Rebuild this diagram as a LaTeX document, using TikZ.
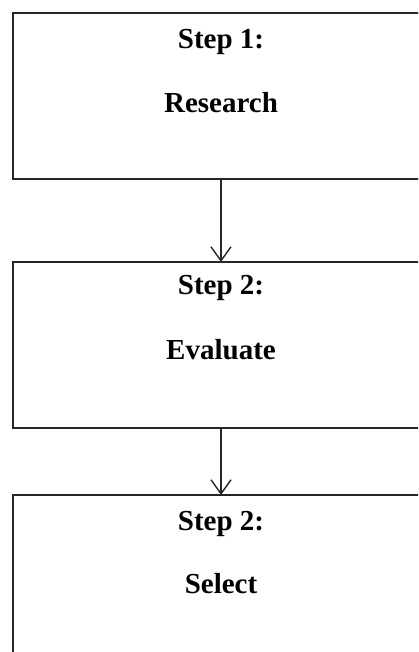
\documentclass[tikz,border=0pt]{standalone}
\usepackage{fontspec}
\setmainfont{Liberation Serif}
\usetikzlibrary{arrows.meta}

\begin{document}
\begin{tikzpicture}[x=1pt,y=1pt,
  >={Straight Barb[length=14pt,width=20pt]},
  stepbox/.style={draw=black!85,line width=1.6pt,minimum width=416pt,
    minimum height=166pt,inner sep=0pt,outer sep=0pt},
  steptext/.style={anchor=base,font=\fontsize{29}{34}\selectfont\bfseries}]

% ---------- frame ----------
\useasboundingbox (0,0) rectangle (418,652);
\clip (0,0) rectangle (418,652);

% ---------- boxes ----------
\node[stepbox] (step1) at (221,556) {};
\node[stepbox] (step2) at (221,307) {};
\node[stepbox] (step3) at (221,74) {};

% ---------- texts ----------
\node[steptext] (head1) at ([yshift=-36pt]step1.north) {Step 1:};
\node[steptext] (name1) at ([yshift=-100pt]step1.north) {Research};

\node[steptext] (head2) at ([yshift=-33pt]step2.north) {Step 2:};
\node[steptext] (name2) at ([yshift=-98pt]step2.north) {Evaluate};

\node[steptext] (head3) at ([yshift=-36pt]step3.north) {Step 2:};
\node[steptext] (name3) at ([yshift=-99pt]step3.north) {Select};

% ---------- arrows ----------
\draw[->,line width=1.4pt,black!85] (step1.south) -- (step2.north);
\draw[->,line width=1.4pt,black!85] (step2.south) -- (step3.north);

\end{tikzpicture}
\end{document}
